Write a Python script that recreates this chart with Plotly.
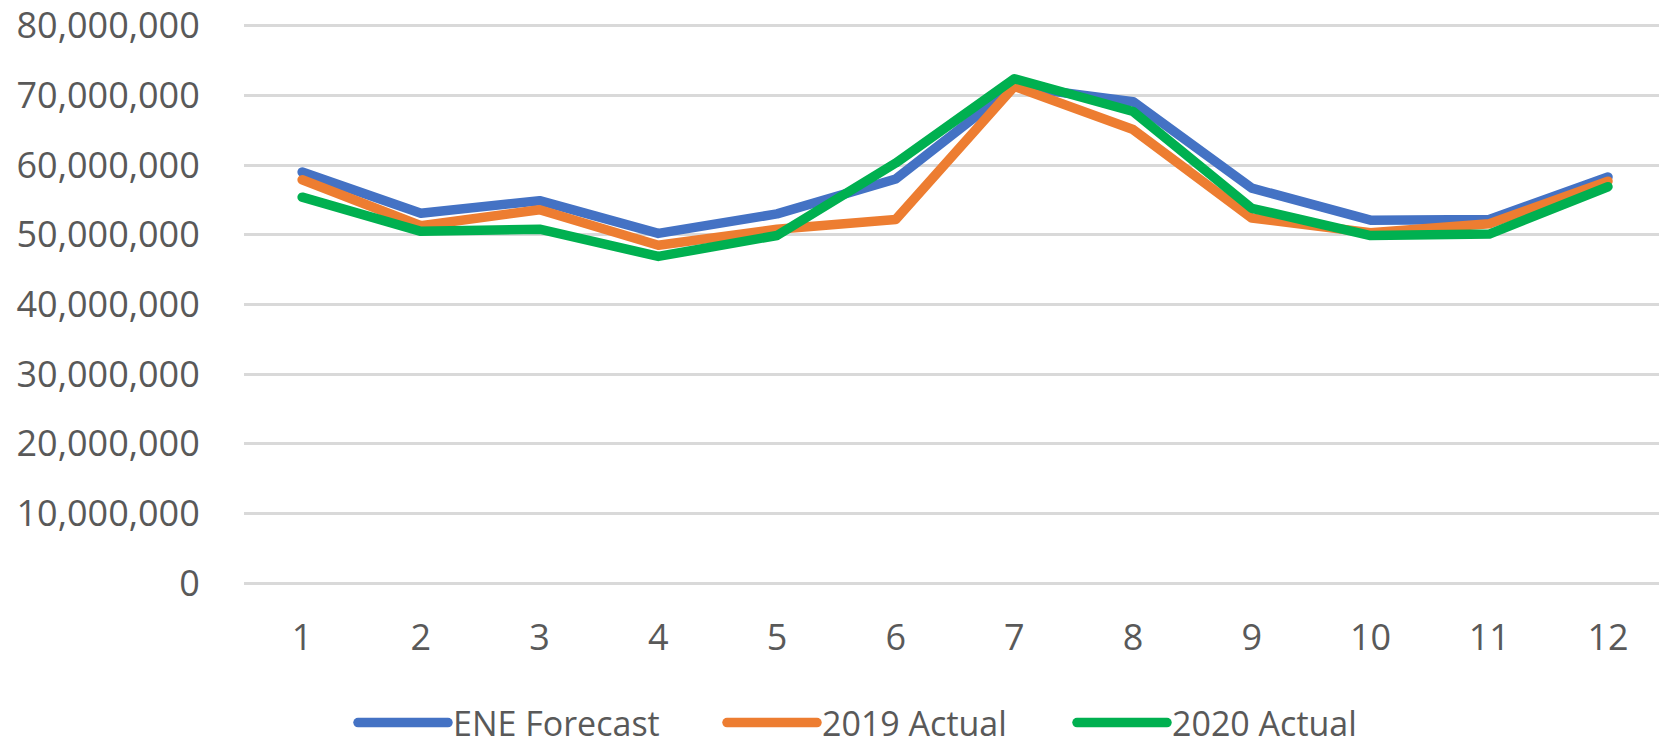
import plotly.graph_objects as go

months = ["1", "2", "3", "4", "5", "6", "7", "8", "9", "10", "11", "12"]
ene_forecast = [59.0e6, 53.1e6, 54.9e6, 50.2e6, 53.0e6, 58.0e6, 71.3e6, 69.1e6, 56.7e6, 52.1e6, 52.2e6, 58.3e6]
actual_2019 = [57.9e6, 51.3e6, 53.6e6, 48.5e6, 50.8e6, 52.2e6, 71.3e6, 65.1e6, 52.4e6, 50.3e6, 51.6e6, 57.7e6]
actual_2020 = [55.4e6, 50.5e6, 50.8e6, 46.9e6, 49.9e6, 60.3e6, 72.4e6, 67.7e6, 53.8e6, 49.9e6, 50.1e6, 56.9e6]

series = [
    ("ENE Forecast", ene_forecast, "#4472C4", 264),
    ("2019 Actual", actual_2019, "#ED7D31", 245),
    ("2020 Actual", actual_2020, "#00B050", 245),
]
y_ticks = [0, 10e6, 20e6, 30e6, 40e6, 50e6, 60e6, 70e6, 80e6]

fig = go.Figure()
for name, vals, color, lw in series:
    fig.add_trace(go.Scatter(
        x=months, y=vals, name=name, mode="lines",
        line=dict(color=color, width=9.5),
        legendwidth=lw,
    ))

tick_font = dict(family="Open Sans, sans-serif", size=36, color="#595959")

fig.update_layout(
    width=1659, height=745,
    margin=dict(l=244, r=0, t=24, b=160),
    paper_bgcolor="white", plot_bgcolor="white",
    showlegend=True,
    legend=dict(
        orientation="h", xref="container", yref="container",
        x=353 / 1659, xanchor="left", y=1 - 723 / 745, yanchor="middle",
        font=dict(family="Open Sans, sans-serif", size=34, color="#595959"),
        itemwidth=90, entrywidthmode="pixels",
        bgcolor="rgba(0,0,0,0)", borderwidth=0,
    ),
    xaxis=dict(
        type="category", range=[-0.49, 11.43], showgrid=False, zeroline=False,
        showline=False, ticks="outside", ticklen=21, tickcolor="rgba(0,0,0,0)",
        tickfont=tick_font, automargin=False,
    ),
    yaxis=dict(
        range=[-0.25e6, 80.25e6], tickvals=y_ticks, tickformat=",d",
        showgrid=True, gridcolor="#D9D9D9", gridwidth=2.5, zeroline=False,
        showline=False, ticks="outside", ticklen=36, tickcolor="rgba(0,0,0,0)",
        tickfont=tick_font, automargin=False,
    ),
)

post = (
    "document.body.style.margin='0';document.body.style.overflow='hidden';"
    "document.querySelectorAll('.scatterlayer path.js-line, .legend path.js-line')"
    ".forEach(function(p){p.style.strokeLinejoin='round';p.style.strokeLinecap='round';});"
)

fig.write_html("out.html", config={"displayModeBar": False}, post_script=post)
